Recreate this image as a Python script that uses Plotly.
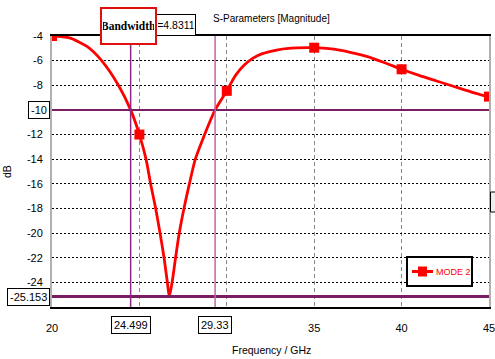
import plotly.graph_objects as go

# ---- data ----
freq = [20, 21, 22, 22.84, 23.8, 24.499, 25, 25.38, 25.64, 25.93, 26.18, 26.41, 26.6,
        26.71, 26.87, 27.07, 27.28, 27.55, 27.86, 28.2, 28.62, 29.33, 30, 30.5, 31, 31.5,
        32, 33, 34, 35, 36, 37, 38, 39, 40, 41, 42, 43, 44, 45]
s_db = [-4.0, -4.15, -4.85, -6.0, -8.0, -10.0, -12.0, -14.0, -16.0, -18.0, -20.0, -22.0,
        -24.0, -25.153, -24.0, -22.0, -20.0, -18.0, -16.0, -14.0, -12.4, -10.0, -8.45,
        -7.2, -6.35, -5.8, -5.45, -5.1, -4.97, -4.95, -5.05, -5.3, -5.65, -6.15, -6.7,
        -7.2, -7.65, -8.1, -8.55, -8.95]
marker_freq = [20, 25, 30, 35, 40, 45]
marker_db = [-4.0, -12.0, -8.45, -4.95, -6.7, -8.92]

series_name = "MODE 2"
level_lines = [-10, -25.153]
freq_lines = [24.499, 29.33]
freq_labels = ["24.499", "29.33"]
level_labels = ["-10", "-25.153"]
bandwidth = "4.8311"

x_ticks = [20, 25, 30, 35, 40, 45]
x_ticktext = ["20", "", "", "35", "40", "45"]        # 25 and 30 hidden behind marker boxes
y_ticks = [-4, -6, -8, -10, -12, -14, -16, -18, -20, -22, -24, -26]
y_ticktext = ["-4", "-6", "-8", "", "-12", "-14", "-16", "-18", "-20", "-22", "-24", ""]

FONT = "Liberation Sans, Arial, sans-serif"
RED = "#FF0000"
PURPLE = "#7A1E62"

# plot-area pixel geometry (for placing paper-referenced decorations)
L, R, T, B = 52, 489, 36, 307
W, H = R - L, B - T
def px(x):
    return (x - L) / W
def py(y):
    return (B - y) / H

fig = go.Figure()
fig.add_trace(go.Scatter(x=freq, y=s_db, mode="lines",
                         line=dict(color=RED, width=2.8, shape="spline", smoothing=0.7),
                         showlegend=False, hoverinfo="skip"))
fig.add_trace(go.Scatter(x=marker_freq, y=marker_db, mode="markers",
                         marker=dict(symbol="square", size=10, color=RED),
                         name=series_name, showlegend=False))

# marker lines
fig.add_shape(type="line", xref="paper", x0=0, x1=1, yref="y", y0=level_lines[0], y1=level_lines[0],
              line=dict(color=PURPLE, width=2))
fig.add_shape(type="line", xref="paper", x0=0, x1=1, yref="y", y0=level_lines[1], y1=level_lines[1],
              line=dict(color=PURPLE, width=3))
fig.add_shape(type="line", xref="x", x0=freq_lines[0], x1=freq_lines[0], yref="paper", y0=0, y1=1,
              line=dict(color="#8A2A86", width=1.5))
fig.add_shape(type="line", xref="x", x0=freq_lines[1], x1=freq_lines[1], yref="paper", y0=0, y1=1,
              line=dict(color="#C466A8", width=1.5))
# partially visible box on the right edge
fig.add_shape(type="rect", xref="paper", yref="paper", x0=px(490.5), x1=px(500), y0=py(212), y1=py(192),
              line=dict(color="black", width=1), fillcolor="#eeeeee")

# legend drawn as a framed key
fig.add_shape(type="rect", xref="paper", yref="paper", x0=px(407), x1=px(472), y0=py(286), y1=py(257),
              line=dict(color="black", width=2), fillcolor="white")
fig.add_shape(type="line", xref="paper", yref="paper", x0=px(412), x1=px(433), y0=py(271.5), y1=py(271.5),
              line=dict(color=RED, width=3))
fig.add_shape(type="rect", xref="paper", yref="paper", x0=px(418), x1=px(427), y0=py(276.5), y1=py(266.5),
              line=dict(color=RED, width=0), fillcolor=RED)
fig.add_annotation(xref="paper", x=px(433.5), xanchor="left", yref="paper", y=py(271.5), yanchor="middle",
                   text=series_name, showarrow=False, font=dict(family=FONT, size=9, color=RED))

box = dict(bgcolor="white", bordercolor="black", borderwidth=1, borderpad=2,
           font=dict(family=FONT, size=11, color="black"), showarrow=False)
for lv, lab in zip(level_lines, level_labels):
    fig.add_annotation(xref="paper", x=0, xanchor="right", xshift=-2,
                       yref="y", y=lv, yanchor="middle", text=lab, **box)
for fv, lab in zip(freq_lines, freq_labels):
    fig.add_annotation(xref="x", x=fv, xanchor="center", yref="paper", y=0, yanchor="top",
                       yshift=-9, text=lab, **box)

fig.add_annotation(xref="paper", x=px(176), yref="paper", y=py(25), xanchor="center", yanchor="middle",
                   text="=" + bandwidth, bgcolor="white", bordercolor="black", borderwidth=1,
                   borderpad=1, width=36, height=18, showarrow=False,
                   font=dict(family=FONT, size=10.5, color="black"))
fig.add_annotation(xref="paper", x=px(128.5), yref="paper", y=py(26), xanchor="center", yanchor="middle",
                   text="<b>Bandwidth</b>", showarrow=False, bgcolor="white",
                   bordercolor="#E01010", borderwidth=2, borderpad=1, width=51, height=32,
                   font=dict(family="Liberation Serif, Times New Roman, serif", size=11.5, color="black"))

fig.add_annotation(xref="paper", x=px(271), xanchor="center", yref="paper", y=py(19), yanchor="middle",
                   text="S-Parameters [Magnitude]", showarrow=False,
                   font=dict(family=FONT, size=10, color="black"))
fig.add_annotation(xref="paper", x=px(271), xanchor="center", yref="paper", y=py(350), yanchor="middle",
                   text="Frequency / GHz", showarrow=False, font=dict(family=FONT, size=10.5, color="black"))
fig.add_annotation(xref="paper", x=px(7), xanchor="center", yref="paper", y=py(172), yanchor="middle",
                   text="dB", textangle=-90, showarrow=False, font=dict(family=FONT, size=10.5, color="black"))

fig.update_layout(
    width=495, height=359,
    margin=dict(l=L, r=495 - R, t=T, b=359 - B),
    paper_bgcolor="white", plot_bgcolor="white",
    showlegend=False,
    xaxis=dict(range=[20, 45], tickvals=x_ticks, ticktext=x_ticktext, automargin=False,
               showgrid=True, gridcolor="#8a8a8a", griddash="4px,3px", gridwidth=1,
               showline=True, linecolor="black", linewidth=1.5, mirror=True,
               ticks="", ticklabelstandoff=10, zeroline=False, ticklabeloverflow="allow",
               tickfont=dict(family=FONT, size=11, color="black")),
    yaxis=dict(range=[-26, -4], tickvals=y_ticks, ticktext=y_ticktext, automargin=False,
               showgrid=True, gridcolor="black", griddash="2px,2px", gridwidth=1,
               showline=True, linecolor="#b0b0b0", linewidth=2, mirror=True,
               ticks="", ticklabelstandoff=5, zeroline=False,
               tickfont=dict(family=FONT, size=11, color="black")),
)

fig.write_html("out.html", config={"displayModeBar": False},
               post_script="document.body.style.margin='0';document.body.style.overflow='hidden';")
